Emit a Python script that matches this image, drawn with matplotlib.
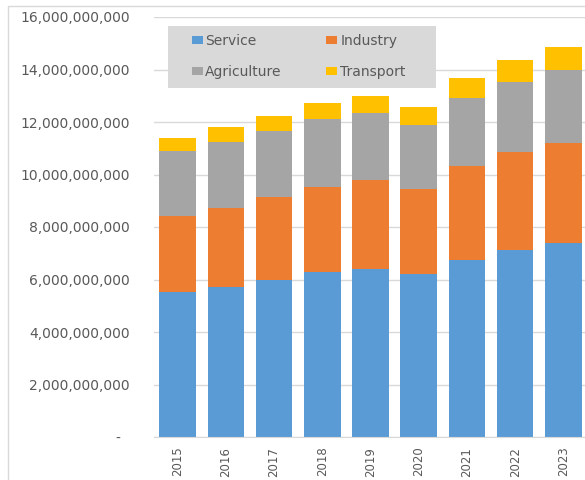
import matplotlib
matplotlib.use("Agg")
import matplotlib.pyplot as plt
from matplotlib.patches import Rectangle
from matplotlib.ticker import FuncFormatter
import numpy as np


# -----------------------------
# Data
# -----------------------------
years = ["2015", "2016", "2017", "2018", "2019", "2020", "2021", "2022", "2023"]

service = [5.54e9, 5.73e9, 5.99e9, 6.27e9, 6.39e9, 6.22e9, 6.75e9, 7.11e9, 7.38e9]
industry = [2.88e9, 3.01e9, 3.15e9, 3.27e9, 3.39e9, 3.24e9, 3.57e9, 3.75e9, 3.83e9]
agriculture = [2.48e9, 2.51e9, 2.52e9, 2.56e9, 2.55e9, 2.41e9, 2.58e9, 2.68e9, 2.78e9]
transport = [0.49e9, 0.55e9, 0.58e9, 0.64e9, 0.66e9, 0.69e9, 0.78e9, 0.81e9, 0.85e9]

series = [
    ("Service", service, "#5B9BD5"),
    ("Industry", industry, "#ED7D31"),
    ("Agriculture", agriculture, "#A5A5A5"),
    ("Transport", transport, "#FFC000"),
]

TEXT = "#595959"
GRID = "#D9D9D9"

plt.rcParams["font.family"] = "DejaVu Sans"

fig = plt.figure(figsize=(5.85, 4.8), dpi=100)
ax = fig.add_axes([153.5 / 585, 1 - 437 / 480, 434 / 585, 420 / 480])

# -----------------------------
# Stacked bars
# -----------------------------
x = np.arange(len(years))
bottom = np.zeros(len(years))
handles = {}
for name, values, color in series:
    bars = ax.bar(x, values, width=0.76, bottom=bottom, color=color, zorder=2, label=name)
    handles[name] = bars
    bottom += np.array(values)

ax.set_xlim(-0.5, len(years) - 0.5)
ax.set_ylim(0, 16e9)
ax.set_yticks(np.arange(0, 16e9 + 1, 2e9))


def accounting(v, pos):
    if v == 0:
        return "-  "
    return f"{v:,.0f}"


ax.yaxis.set_major_formatter(FuncFormatter(accounting))
ax.set_xticks(x)
ax.set_xticklabels(years, rotation=90)

ax.grid(axis="y", color=GRID, linewidth=1, zorder=0)
ax.set_axisbelow(True)
for side in ["top", "right", "left"]:
    ax.spines[side].set_visible(False)
ax.spines["bottom"].set_color(GRID)

ax.tick_params(axis="y", length=0, pad=17, labelsize=10, labelcolor=TEXT)
ax.tick_params(axis="x", length=0, pad=7, labelsize=8.5, labelcolor=TEXT)

# -----------------------------
# Legend on a grey panel
# -----------------------------
ax.add_patch(
    Rectangle(
        (168 / 585, 1 - 88 / 480),
        268 / 585,
        62 / 480,
        transform=fig.transFigure,
        facecolor="#D9D9D9",
        edgecolor="none",
        zorder=4,
        clip_on=False,
    )
)
order = ["Service", "Agriculture", "Industry", "Transport"]
leg = ax.legend(
    [handles[n] for n in order],
    order,
    ncol=2,
    loc="center left",
    bbox_to_anchor=(191.5 / 585, 1 - 56.7 / 480),
    bbox_transform=fig.transFigure,
    frameon=False,
    fontsize=10,
    handlelength=0.8,
    handleheight=0.5,
    handletextpad=0.2,
    labelspacing=1.25,
    columnspacing=3.2,
    borderpad=0,
    borderaxespad=0,
)
leg.set_zorder(5)
for t in leg.get_texts():
    t.set_color(TEXT)

# outer chart border
fig.add_artist(
    Rectangle(
        (8 / 585, -0.05),
        1.2,
        1.05 - 6 / 480,
        transform=fig.transFigure,
        facecolor="none",
        edgecolor=GRID,
        linewidth=1,
    )
)

fig.savefig("out.png", dpi=100)
